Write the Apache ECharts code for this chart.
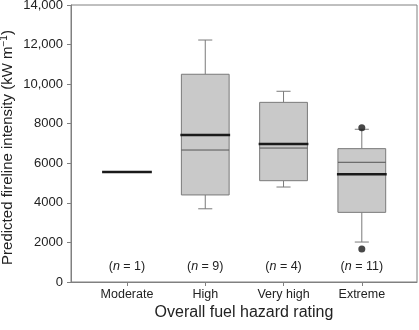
<!DOCTYPE html>
<html>
<head>
<meta charset="utf-8">
<script src="https://cdn.jsdelivr.net/npm/echarts@6/dist/echarts.min.js"></script>
<style>
html, body { margin: 0; padding: 0; background: #fff; }
#main { width: 419px; height: 330px; }
</style>
</head>
<body>
<div id="main"></div>
<script>
// fuel hazard categories and sample sizes
var categories = ['Moderate', 'High', 'Very high', 'Extreme'];
var counts = [1, 9, 4, 11];
// box plot statistics (kW m-1)
var whiskerLow = [5560, 3700, 4800, 2020];
var q1 = [5560, 4400, 5120, 3520];
var medians = [5560, 6670, 6770, 6050];
var q3 = [5560, 10500, 9080, 6740];
var whiskerHigh = [5560, 12230, 9640, 7720];
var means = [5560, 7430, 6980, 5440];
// outliers: [category position, value]
var outliers = [[4, 7790], [4, 1670]];

var font = 'Liberation Sans, Arial, sans-serif';
var chart = echarts.init(document.getElementById('main'));

var boxData = categories.map(function (c, i) {
	return [i + 1, whiskerLow[i], q1[i], medians[i], q3[i], whiskerHigh[i], means[i], counts[i]];
});

function renderBox(params, api) {
	var x = api.value(0);
	var unit = api.size([1, 0])[0];
	var half = unit * 0.305;
	var cap = unit * 0.09;
	var p = function (v) { return api.coord([x, v]); };
	var cx = p(0)[0];
	var children = [];
	var lo = api.value(1), b1 = api.value(2), med = api.value(3), b3 = api.value(4), hi = api.value(5), mean = api.value(6);
	var n = api.value(7);
	var grey = '#7a7a7a';
	if (b3 > b1) {
		children.push({ type: 'line', shape: { x1: cx, y1: p(hi)[1], x2: cx, y2: p(b3)[1] }, style: { stroke: grey, lineWidth: 1 } });
		children.push({ type: 'line', shape: { x1: cx, y1: p(lo)[1], x2: cx, y2: p(b1)[1] }, style: { stroke: grey, lineWidth: 1 } });
		children.push({ type: 'line', shape: { x1: cx - cap, y1: p(hi)[1], x2: cx + cap, y2: p(hi)[1] }, style: { stroke: grey, lineWidth: 1 } });
		children.push({ type: 'line', shape: { x1: cx - cap, y1: p(lo)[1], x2: cx + cap, y2: p(lo)[1] }, style: { stroke: grey, lineWidth: 1 } });
		children.push({ type: 'rect', shape: { x: cx - half, y: p(b3)[1], width: half * 2, height: p(b1)[1] - p(b3)[1] },
			style: { fill: '#c9c9c9', stroke: grey, lineWidth: 1 } });
		children.push({ type: 'line', shape: { x1: cx - half, y1: p(med)[1], x2: cx + half, y2: p(med)[1] }, style: { stroke: '#555', lineWidth: 1 } });
	}
	children.push({ type: 'line', shape: { x1: cx - half - 1, y1: p(mean)[1], x2: cx + half + 1, y2: p(mean)[1] }, style: { stroke: '#1a1a1a', lineWidth: 2.5 } });
	children.push({ type: 'text', style: {
		text: '({i|n} = ' + n + ')', x: cx, y: p(0)[1] - 15, align: 'center', verticalAlign: 'middle',
		fill: '#222', fontSize: 12.5, fontFamily: font,
		rich: { i: { fontStyle: 'italic', fontSize: 12.5, fontFamily: font, fill: '#222' } }
	} });
	return { type: 'group', children: children };
}

var option = {
	animation: false,
	grid: {
		left: 71, right: 2, top: 5, bottom: 48,
		outerBoundsMode: 'none',
		containLabel: false,
		show: true, borderColor: '#808080', borderWidth: 1
	},
	xAxis: {
		type: 'value',
		min: 0.285,
		max: 4.705,
		name: 'Overall fuel hazard rating',
		nameLocation: 'middle',
		nameGap: 23,
		nameMoveOverlap: false,
		nameTextStyle: { fontSize: 16, color: '#222', fontFamily: font },
		axisLine: { show: true, lineStyle: { color: '#808080' } },
		axisTick: { show: true, length: 4, customValues: [1, 2, 3, 4], lineStyle: { color: '#808080' } },
		axisLabel: {
			customValues: [1, 2, 3, 4], margin: 6, fontSize: 12.5, color: '#222', fontFamily: font,
			formatter: function (v) { return categories[Math.round(v) - 1]; }
		},
		splitLine: { show: false }
	},
	yAxis: {
		type: 'value',
		min: 0,
		max: 14000,
		interval: 2000,
		name: 'Predicted fireline intensity (kW m{sup|\u22121})',
		nameLocation: 'middle',
		nameGap: 54,
		nameMoveOverlap: false,
		nameTextStyle: {
			fontSize: 15, color: '#222', fontFamily: font,
			padding: [0, 8, 0, 0],
			rich: { sup: { fontSize: 10, color: '#222', fontFamily: font, verticalAlign: 'top', padding: [0, 0, 8, 0] } }
		},
		axisLine: { show: true, lineStyle: { color: '#808080' } },
		axisTick: { show: true, length: 4, lineStyle: { color: '#808080' } },
		axisLabel: {
			margin: 8, fontSize: 13, color: '#222', fontFamily: font,
			formatter: function (v) { return v >= 10000 ? v.toLocaleString('en-US') : String(v); }
		},
		splitLine: { show: false }
	},
	series: [{
		type: 'custom',
		renderItem: renderBox,
		data: boxData,
		encode: { x: 0, y: [1, 5] },
		z: 2
	}, {
		type: 'scatter',
		data: outliers,
		symbolSize: 7,
		itemStyle: { color: '#1a1a1a' },
		z: 3
	}]
};

chart.setOption(option);
</script>
</body>
</html>
